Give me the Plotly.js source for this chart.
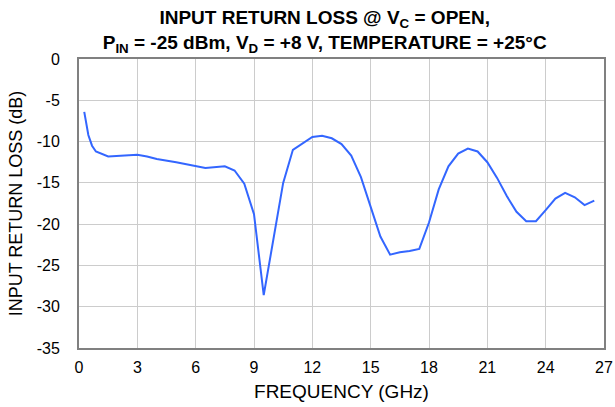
<!DOCTYPE html>
<html>
<head>
<meta charset="utf-8">
<script src="https://cdn.plot.ly/plotly-3.0.1.min.js"></script>
<style>html,body{margin:0;padding:0;background:#fff;}#chart{width:615px;height:407px;}</style>
</head>
<body>
<div id="chart"></div>
<script>
const freqGHz = [0.27, 0.48, 0.67, 0.87, 1.5, 3.0, 3.5, 4.0, 5.0, 6.5, 7.5, 8.0, 8.5, 9.0, 9.5, 10.0, 10.5, 11.0, 12.0, 12.5, 13.0, 13.5, 14.0, 14.5, 15.0, 15.5, 16.0, 16.5, 17.0, 17.5, 18.0, 18.5, 19.0, 19.5, 20.0, 20.5, 21.0, 21.5, 22.0, 22.5, 23.0, 23.5, 24.0, 24.5, 25.0, 25.5, 26.0, 26.5];
const returnLossDb = [-6.4, -9.2, -10.5, -11.2, -11.8, -11.6, -11.8, -12.1, -12.5, -13.2, -13.0, -13.5, -15.1, -18.8, -28.6, -21.8, -15.0, -11.0, -9.45, -9.3, -9.6, -10.3, -11.7, -14.3, -17.8, -21.5, -23.7, -23.4, -23.25, -23.0, -19.8, -15.8, -13.0, -11.45, -10.85, -11.2, -12.5, -14.4, -16.6, -18.5, -19.65, -19.65, -18.3, -16.9, -16.2, -16.75, -17.7, -17.15];
const xTicks = [0, 3, 6, 9, 12, 15, 18, 21, 24, 27];
const yTicks = [0, -5, -10, -15, -20, -25, -30, -35];

const font = "Liberation Sans, Arial, sans-serif";
Plotly.newPlot('chart', [{
  x: freqGHz, y: returnLossDb, type: 'scatter', mode: 'lines',
  line: {color: '#3366ff', width: 2}, hoverinfo: 'skip'
}], {
  width: 615, height: 407,
  margin: {l: 79, r: 11, t: 59, b: 59},
  paper_bgcolor: '#fff', plot_bgcolor: '#fff',
  showlegend: false,
  font: {family: font, color: '#000'},
  title: {
    text: '<b>INPUT RETURN LOSS @ V<sub>C</sub> = OPEN,<br>P<sub>IN</sub> = -25 dBm, V<sub>D</sub> = +8 V, TEMPERATURE = +25°C</b>',
    font: {family: font, size: 19, color: '#000'},
    x: 0.468, xref: 'paper', xanchor: 'center', y: 0.94, yref: 'container', yanchor: 'top'
  },
  xaxis: {
    range: [0, 27], tickvals: xTicks, ticktext: xTicks.map(String),
    showgrid: true, gridcolor: '#cccccc', gridwidth: 1,
    showline: true, linecolor: '#808080', linewidth: 2, mirror: true,
    zeroline: false, ticks: '', tickfont: {size: 16, family: font},
    ticklabelstandoff: 4,
    title: {text: 'FREQUENCY (GHz)', font: {size: 19, family: font}, standoff: 9}
  },
  yaxis: {
    range: [-35, 0], tickvals: yTicks, ticktext: yTicks.map(String),
    showgrid: true, gridcolor: '#cccccc', gridwidth: 1,
    showline: true, linecolor: '#808080', linewidth: 2, mirror: true,
    zeroline: false, ticks: '', tickfont: {size: 16, family: font},
    ticklabelstandoff: 14,
    title: {text: 'INPUT RETURN LOSS (dB)', font: {size: 18, family: font}, standoff: 9}
  }
}, {displayModeBar: false, staticPlot: true});
</script>
</body>
</html>
